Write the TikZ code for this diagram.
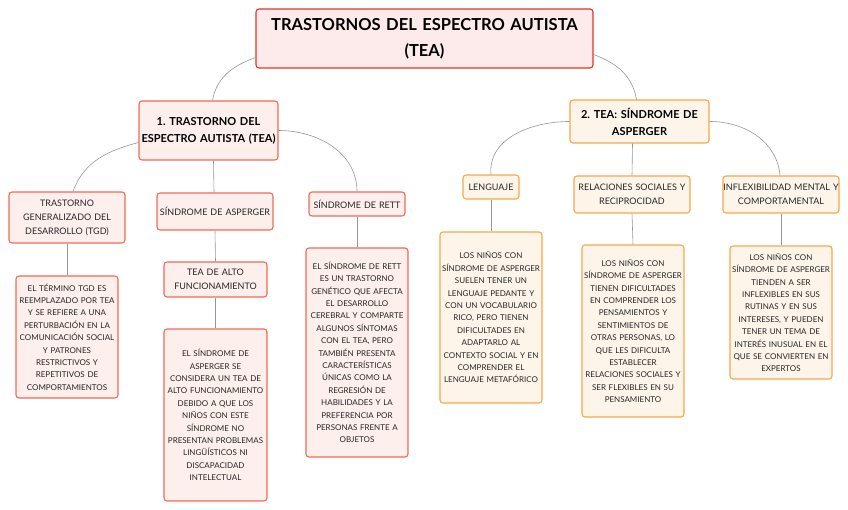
\documentclass[tikz,border=0pt]{standalone}
\usepackage{fontspec}
\setmainfont{Lato}
\usetikzlibrary{positioning}
\frenchspacing

\definecolor{rootline}{HTML}{E2322B}
\definecolor{rootfill}{HTML}{FDEAEA}
\definecolor{redline}{HTML}{F26A58}
\definecolor{redfill}{HTML}{FDEFEB}
\definecolor{orline}{HTML}{F8A848}
\definecolor{orfill}{HTML}{FEF5EA}
\definecolor{link}{HTML}{9C9490}

\begin{document}
\begin{tikzpicture}[x=1pt,y=-1pt,every node/.style={font=\fontsize{8}{12.4}\selectfont,text=black!85}]
  \tikzset{
    box/.style={rectangle,rounded corners=3pt,line width=1.1pt,align=center,inner sep=0pt},
    redbox/.style={box,draw=redline,fill=redfill},
    orbox/.style={box,draw=orline,fill=orfill},
    lbl/.style={font=\fontsize{9}{14}\selectfont},
    con/.style={draw=link,line width=0.6pt}
  }
  \useasboundingbox (0,0) rectangle (848,510);
  % root
  \node[box,draw=rootline,fill=rootfill,minimum width=337pt,minimum height=59pt,text width=330pt,
        font=\fontsize{16.5}{26}\selectfont\bfseries,text=black] (root) at (424.5,38.5)
        {TRASTORNOS DEL ESPECTRO AUTISTA\\(TEA)};
  % first branch
  \node[redbox,minimum width=139pt,minimum height=59pt,text width=137pt,
        font=\fontsize{11}{17}\selectfont\bfseries,text=black] (tea) at (208.5,130.5)
        {1. TRASTORNO DEL\\ESPECTRO AUTISTA (TEA)};
  \node[redbox,lbl,minimum width=116pt,minimum height=51pt,text width=116pt] (tgd) at (67,217.5)
        {TRASTORNO\\GENERALIZADO DEL\\DESARROLLO (TGD)};
  \node[redbox,minimum width=102pt,minimum height=122pt,text width=102pt] (tgdtxt) at (67,337)
        {EL TÉRMINO TGD ES\\REEMPLAZADO POR TEA\\Y SE REFIERE A UNA\\PERTURBACIÓN EN LA\\COMUNICACIÓN SOCIAL\\Y PATRONES\\RESTRICTIVOS Y\\REPETITIVOS DE\\COMPORTAMIENTOS};
  \node[redbox,lbl,minimum width=116pt,minimum height=37pt,text width=116pt] (asp) at (215,211.5)
        {SÍNDROME DE ASPERGER};
  \node[redbox,lbl,minimum width=103pt,minimum height=35pt,text width=103pt] (alto) at (215.5,279.5)
        {TEA DE ALTO\\FUNCIONAMIENTO};
  \node[redbox,minimum width=103pt,minimum height=172pt,text width=103pt] (altotxt) at (215.5,415)
        {EL SÍNDROME DE\\ASPERGER SE\\CONSIDERA UN TEA DE\\ALTO FUNCIONAMIENTO\\DEBIDO A QUE LOS\\NIÑOS CON ESTE\\SÍNDROME NO\\PRESENTAN PROBLEMAS\\LINGÜÍSTICOS NI\\DISCAPACIDAD\\INTELECTUAL};
  \node[redbox,lbl,minimum width=96pt,minimum height=24pt,text width=96pt] (rett) at (357,204)
        {SÍNDROME DE RETT};
  \node[redbox,minimum width=102pt,minimum height=209pt,text width=102pt] (retttxt) at (357,352.5)
        {EL SÍNDROME DE RETT\\ES UN TRASTORNO\\GENÉTICO QUE AFECTA\\EL DESARROLLO\\CEREBRAL Y COMPARTE\\ALGUNOS SÍNTOMAS\\CON EL TEA, PERO\\TAMBIÉN PRESENTA\\CARACTERÍSTICAS\\ÚNICAS COMO LA\\REGRESIÓN DE\\HABILIDADES Y LA\\PREFERENCIA POR\\PERSONAS FRENTE A\\OBJETOS};
  % second branch
  \node[orbox,minimum width=139pt,minimum height=43pt,text width=137pt,
        font=\fontsize{11}{17}\selectfont\bfseries,text=black] (ag) at (639.5,121.5)
        {2. TEA: SÍNDROME DE\\ASPERGER};
  \node[orbox,lbl,minimum width=56pt,minimum height=24pt,text width=56pt] (leng) at (491,187)
        {LENGUAJE};
  \node[orbox,minimum width=102pt,minimum height=171pt,text width=102pt] (lengtxt) at (491,317.5)
        {LOS NIÑOS CON\\SÍNDROME DE ASPERGER\\SUELEN TENER UN\\LENGUAJE PEDANTE Y\\CON UN VOCABULARIO\\RICO, PERO TIENEN\\DIFICULTADES EN\\ADAPTARLO AL\\CONTEXTO SOCIAL Y EN\\COMPRENDER EL\\LENGUAJE METAFÓRICO};
  \node[orbox,lbl,minimum width=116pt,minimum height=37pt,text width=116pt] (rel) at (632,194.5)
        {RELACIONES SOCIALES Y\\RECIPROCIDAD};
  \node[orbox,minimum width=102pt,minimum height=172pt,text width=102pt] (reltxt) at (633,331)
        {LOS NIÑOS CON\\SÍNDROME DE ASPERGER\\TIENEN DIFICULTADES\\EN COMPRENDER LOS\\PENSAMIENTOS Y\\SENTIMIENTOS DE\\OTRAS PERSONAS, LO\\QUE LES DIFICULTA\\ESTABLECER\\RELACIONES SOCIALES Y\\SER FLEXIBLES EN SU\\PENSAMIENTO};
  \node[orbox,lbl,minimum width=116pt,minimum height=37pt,text width=116pt] (infl) at (781,194.5)
        {INFLEXIBILIDAD MENTAL Y\\COMPORTAMENTAL};
  \node[orbox,minimum width=102pt,minimum height=133pt,text width=102pt] (infltxt) at (781,312.5)
        {LOS NIÑOS CON\\SÍNDROME DE ASPERGER\\TIENDEN A SER\\INFLEXIBLES EN SUS\\RUTINAS Y EN SUS\\INTERESES, Y PUEDEN\\TENER UN TEMA DE\\INTERÉS INUSUAL EN EL\\QUE SE CONVIERTEN EN\\EXPERTOS};
  % connectors
  \draw[con] ([yshift=11pt]root.south west) to[out=200,in=80] ([xshift=4pt]tea.north);
  \draw[con] ([yshift=14pt]root.south east) to[out=-20,in=100] ([xshift=-3pt]ag.north);
  \draw[con] ([yshift=-12pt]tea.west) to[out=195,in=70] ([xshift=6pt]tgd.north);
  \draw[con] ([xshift=5pt]tea.south) -- ([xshift=-1pt]asp.north);
  \draw[con] (tea.east) to[out=0,in=90] (rett.north);
  \draw[con] (asp.south) -- (alto.north);
  \draw[con] (alto.south) -- (altotxt.north);
  \draw[con] (tgd.south) -- (tgdtxt.north);
  \draw[con] (rett.south) -- (retttxt.north);
  \draw[con] (ag.west) to[out=180,in=95] (leng.north);
  \draw[con] ([xshift=-7pt]ag.south) -- (rel.north);
  \draw[con] (ag.east) to[out=0,in=95] ([xshift=-1pt]infl.north);
  \draw[con] (leng.south) -- (lengtxt.north);
  \draw[con] (rel.south) -- (reltxt.north);
  \draw[con] (infl.south) -- (infltxt.north);
\end{tikzpicture}
\end{document}
